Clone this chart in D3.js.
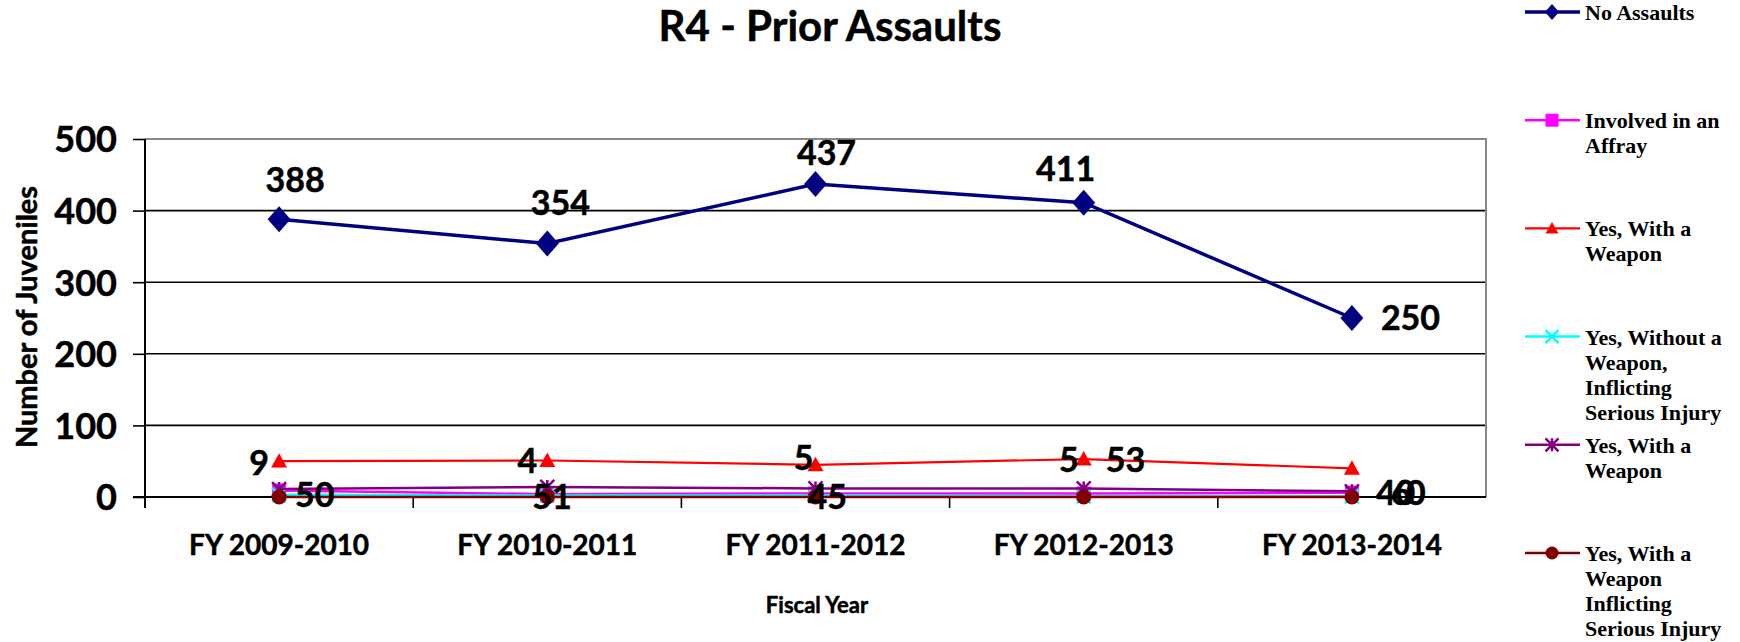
<!DOCTYPE html>
<html>
<head>
<meta charset="utf-8">
<script src="https://cdn.jsdelivr.net/npm/d3@7"></script>
<style>
  body { margin: 0; background: #fff; }
  svg { display: block; }
  .lbl { font-family: Lato, "Open Sans", sans-serif; font-weight: bold; fill: #000; stroke: #000; stroke-width: 0.5px; }
  .leg { font-family: "Liberation Serif", "Times New Roman", serif; font-weight: bold; fill: #000; font-size: 22px; }
</style>
</head>
<body>
<div id="chart"></div>
<script>
// data
var years = ["FY 2009-2010", "FY 2010-2011", "FY 2011-2012", "FY 2012-2013", "FY 2013-2014"];
var noAssaults = [388, 354, 437, 411, 250];
var affray = [9, 4, 5, 5, 6];
var withWeapon = [50, 51, 45, 53, 40];
var withoutWeaponInjury = [3, 2, 2, 1, 1];
var withWeapon2 = [11, 14, 12, 12, 8];
var withWeaponInjury = [0, 0, 0, 0, 0];
var yTicks = [0, 100, 200, 300, 400, 500];

var svgWidth = 1740;
var svgHeight = 642;

var margin = { top: 139, right: 254, bottom: 145, left: 145 };
var width = svgWidth - margin.left - margin.right;
var height = svgHeight - margin.top - margin.bottom;

var series = [
  { name: ["No Assaults"], values: noAssaults, color: "#000080", shape: "diamond", lw: 3.5, size: 13 },
  { name: ["Involved in an", "Affray"], values: affray, color: "#ff00ff", shape: "square", lw: 2.5, size: 7 },
  { name: ["Yes, With a", "Weapon"], values: withWeapon, color: "#ff0000", shape: "triangle", lw: 2.2, size: 8 },
  { name: ["Yes, Without a", "Weapon,", "Inflicting", "Serious Injury"], values: withoutWeaponInjury, color: "#00ffff", shape: "cross", lw: 2.5, size: 7 },
  { name: ["Yes, With a", "Weapon"], values: withWeapon2, color: "#800080", shape: "star", lw: 2.5, size: 7 },
  { name: ["Yes, With a", "Weapon", "Inflicting", "Serious Injury"], values: withWeaponInjury, color: "#800000", shape: "circle", lw: 2.5, size: 7.5 }
];

var svg = d3.select("#chart").append("svg")
  .attr("width", svgWidth)
  .attr("height", svgHeight);

var chartGroup = svg.append("g")
  .attr("transform", `translate(${margin.left}, ${margin.top})`);

var xScale = d3.scaleBand().domain(years).range([0, width]);
var yScale = d3.scaleLinear().domain([0, 500]).range([height, 0]);
var cx = function(i) { return xScale(years[i]) + xScale.bandwidth() / 2; };

// gridlines
chartGroup.selectAll(".grid")
  .data(yTicks.filter(d => d > 0 && d < 500))
  .enter().append("line")
  .attr("x1", 0).attr("x2", width)
  .attr("y1", d => yScale(d)).attr("y2", d => yScale(d))
  .attr("stroke", "#000").attr("stroke-width", 1.6);

// plot border top/right
chartGroup.append("path")
  .attr("d", `M0,${yScale(500)}H${width}V${height}`)
  .attr("fill", "none").attr("stroke", "#888").attr("stroke-width", 2);

// y axis
var leftAxis = d3.axisLeft(yScale).tickValues(yTicks).tickSize(12).tickPadding(16);
var yAxis = chartGroup.append("g").call(leftAxis);
yAxis.select(".domain").remove();
yAxis.selectAll("line").attr("stroke", "#000").attr("stroke-width", 1.6);
yAxis.selectAll("text").attr("class", "lbl").style("font-size", "36px").attr("dy", "0.36em");
chartGroup.append("line")
  .attr("x1", 0).attr("x2", 0).attr("y1", yScale(500)).attr("y2", height + 11)
  .attr("stroke", "#000").attr("stroke-width", 2);

// x axis
var bottomAxis = d3.axisBottom(xScale).tickSize(0);
var xAxis = chartGroup.append("g")
  .attr("transform", `translate(0, ${height})`)
  .call(bottomAxis);
xAxis.select(".domain").remove();
xAxis.selectAll("text").attr("class", "lbl").style("font-size", "28px").attr("y", 58).attr("dy", 0);
chartGroup.append("line")
  .attr("x1", -12).attr("x2", width).attr("y1", height).attr("y2", height)
  .attr("stroke", "#000").attr("stroke-width", 2);
chartGroup.selectAll(".xtick")
  .data(d3.range(1, years.length))
  .enter().append("line")
  .attr("x1", d => xScale(years[d])).attr("x2", d => xScale(years[d]))
  .attr("y1", height).attr("y2", height + 11)
  .attr("stroke", "#000").attr("stroke-width", 1.6);

// markers
function drawMarker(g, shape, size, color) {
  if (shape === "diamond") {
    g.append("path").attr("d", `M0,${-size}L${size * 0.88},0L0,${size}L${-size * 0.88},0Z`).attr("fill", color);
  } else if (shape === "square") {
    g.append("rect").attr("x", -size).attr("y", -size).attr("width", size * 2).attr("height", size * 2).attr("fill", color);
  } else if (shape === "triangle") {
    g.append("path").attr("d", `M0,${-size}L${size},${size * 0.8}L${-size},${size * 0.8}Z`).attr("fill", color);
  } else if (shape === "cross") {
    g.append("path").attr("d", `M${-size},${-size}L${size},${size}M${size},${-size}L${-size},${size}`)
      .attr("stroke", color).attr("stroke-width", 2.5);
  } else if (shape === "star") {
    g.append("path").attr("d", `M${-size},${-size}L${size},${size}M${size},${-size}L${-size},${size}M0,${-size}V${size}`)
      .attr("stroke", color).attr("stroke-width", 2.5);
  } else {
    g.append("circle").attr("r", size).attr("fill", color);
  }
}

var line = d3.line().x((d, i) => cx(i)).y(d => yScale(d));

series.forEach(function(s) {
  chartGroup.append("path")
    .datum(s.values)
    .attr("d", line)
    .attr("fill", "none")
    .attr("stroke", s.color)
    .attr("stroke-width", s.lw);
  s.values.forEach(function(v, i) {
    var g = chartGroup.append("g").attr("transform", `translate(${cx(i)}, ${yScale(v)})`);
    drawMarker(g, s.shape, s.size, s.color);
  });
});

// data labels (as placed in the original chart)
var labelSpots = [
  { i: 0, at: noAssaults[0], text: noAssaults[0], dx: 16, dy: -39, anchor: "middle" },
  { i: 1, at: noAssaults[1], text: noAssaults[1], dx: 13, dy: -41, anchor: "middle" },
  { i: 2, at: noAssaults[2], text: noAssaults[2], dx: 11, dy: -31, anchor: "middle" },
  { i: 3, at: noAssaults[3], text: noAssaults[3], dx: -18, dy: -34, anchor: "middle" },
  { i: 4, at: noAssaults[4], text: noAssaults[4], dx: 29, dy: 0, anchor: "start" },
  { i: 0, at: withWeapon[0], text: affray[0], dx: -10, dy: 2, anchor: "end" },
  { i: 1, at: withWeapon[1], text: affray[1], dx: -10, dy: 0, anchor: "end" },
  { i: 2, at: withWeapon[2], text: affray[2], dx: -2, dy: -7, anchor: "end" },
  { i: 3, at: withWeapon[3], text: affray[3], dx: -5, dy: 1, anchor: "end" },
  { i: 3, at: withWeapon[3], text: withWeapon[3], dx: 22, dy: 1, anchor: "start" },
  { i: 0, at: 0, text: withWeapon[0], dx: 16, dy: -2, anchor: "start" },
  { i: 1, at: 0, text: withWeapon[1], dx: -15, dy: 0, anchor: "start" },
  { i: 2, at: 0, text: withWeapon[2], dx: -8, dy: 0, anchor: "start" },
  { i: 4, at: 0, text: withWeapon[4], dx: 24, dy: -4, anchor: "start" },
  { i: 4, at: 0, text: affray[4], dx: 39, dy: -4, anchor: "start" },
  { i: 4, at: 0, text: withWeaponInjury[4], dx: 54, dy: -4, anchor: "start" }
];

chartGroup.selectAll(".dlabel")
  .data(labelSpots)
  .enter().append("text")
  .attr("class", "lbl")
  .style("font-size", "34px")
  .attr("x", d => cx(d.i) + d.dx)
  .attr("y", d => yScale(d.at) + d.dy)
  .attr("dy", "0.36em")
  .attr("text-anchor", d => d.anchor)
  .text(d => d.text);

// titles
svg.append("text")
  .attr("class", "lbl")
  .attr("x", 830).attr("y", 41)
  .attr("text-anchor", "middle")
  .style("font-size", "42px")
  .text("R4 - Prior Assaults");

svg.append("text")
  .attr("class", "lbl")
  .attr("transform", "translate(37, 317) rotate(-90)")
  .attr("text-anchor", "middle")
  .style("font-size", "29px")
  .text("Number of Juveniles");

svg.append("text")
  .attr("class", "lbl")
  .attr("x", 817).attr("y", 613)
  .attr("text-anchor", "middle")
  .style("font-size", "22px")
  .text("Fiscal Year");

// legend
var legend = svg.append("g").attr("transform", "translate(1525, 12)");
series.forEach(function(s, k) {
  var g = legend.append("g").attr("transform", `translate(0, ${k * 108.2})`);
  g.append("line").attr("x1", 0).attr("x2", 55).attr("y1", 0).attr("y2", 0)
    .attr("stroke", s.color).attr("stroke-width", s.lw);
  var m = g.append("g").attr("transform", "translate(27, 0)");
  drawMarker(m, s.shape, s.shape === "diamond" ? 8 : 6.5, s.color);
  var t = g.append("text").attr("class", "leg").attr("x", 60).attr("y", 8);
  s.name.forEach(function(n, j) {
    t.append("tspan").attr("x", 60).attr("dy", j === 0 ? 0 : 25).text(n);
  });
});
</script>
</body>
</html>
